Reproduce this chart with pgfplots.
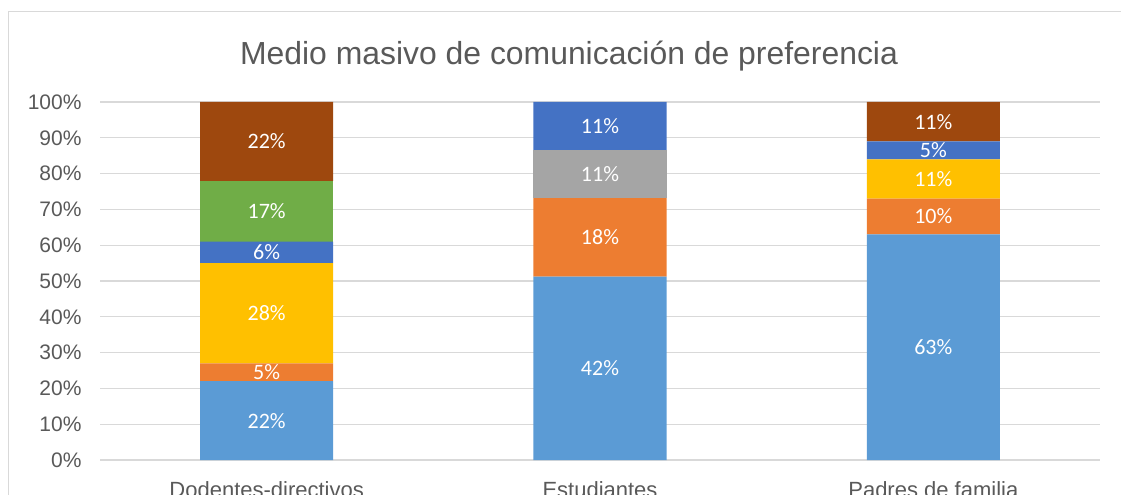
\documentclass[border=0pt]{standalone}
\usepackage{pgfplots}
\pgfplotsset{compat=1.18}
\usepackage{fontspec}
\setmainfont{Liberation Sans}
\newfontfamily\calibri{Carlito}
\definecolor{lb}{HTML}{5B9BD5}
\definecolor{orx}{HTML}{ED7D31}
\definecolor{gy}{HTML}{A5A5A5}
\definecolor{ye}{HTML}{FFC000}
\definecolor{db}{HTML}{4472C4}
\definecolor{gr}{HTML}{70AD47}
\definecolor{br}{HTML}{9E480E}
\definecolor{gridc}{HTML}{D9D9D9}
\definecolor{txt}{HTML}{595959}
\begin{document}
\begin{tikzpicture}
\useasboundingbox (0,0) rectangle (1121bp,495bp);
\begin{scope}
\clip (0,0) rectangle (1121bp,495bp);
\draw[gridc, line width=1.2bp] (8.5bp,-20bp) rectangle (1140bp,483.5bp);
\node[text=txt, font=\fontsize{31.9bp}{36bp}\selectfont] at (569bp,439bp) {Medio masivo de comunicación de preferencia};
\begin{axis}[
  at={(100bp,35bp)}, anchor=south west,
  scale only axis, width=1000bp, height=358bp,
  xmin=-0.5, xmax=2.5, ymin=0, ymax=100,
  ybar stacked, bar width=133bp,
  xtick={0,1,2},
  xticklabels={Dodentes-directivos,Estudiantes,Padres de familia},
  ytick={0,10,...,100},
  /pgf/number format/assume math mode=true,
  yticklabel={\pgfmathprintnumber{\tick}\%},
  ymajorgrids, grid style={gridc, line width=1.2bp},
  axis line style={draw=none},
  major tick length=0pt,
  tick label style={text=txt},
  yticklabel style={xshift=-15bp, font=\fontsize{21bp}{25bp}\selectfont},
  xticklabel style={yshift=-18bp, font=\fontsize{22bp}{26bp}\selectfont},
  clip=false,
  point meta=explicit symbolic,
  nodes near coords,
  every node near coord/.append style={font=\calibri\fontsize{22bp}{26bp}\selectfont, text=white, anchor=center},
  every axis plot/.append style={draw=none},
]
\addplot[fill=lb] coordinates {(0,22) [22\%] (1,51.22) [42\%] (2,63) [63\%]};
\addplot[fill=orx] coordinates {(0,5) [5\%] (1,21.95) [18\%] (2,10) [10\%]};
\addplot[fill=gy] coordinates {(0,0) [\mbox{}] (1,13.415) [11\%] (2,0) [\mbox{}]};
\addplot[fill=ye] coordinates {(0,28) [28\%] (1,0) [\mbox{}] (2,11) [11\%]};
\addplot[fill=db] coordinates {(0,6) [6\%] (1,13.415) [11\%] (2,5) [5\%]};
\addplot[fill=gr] coordinates {(0,17) [17\%] (1,0) [\mbox{}] (2,0) [\mbox{}]};
\addplot[fill=br] coordinates {(0,22) [22\%] (1,0) [\mbox{}] (2,11) [11\%]};
\end{axis}
\end{scope}
\end{tikzpicture}
\end{document}
